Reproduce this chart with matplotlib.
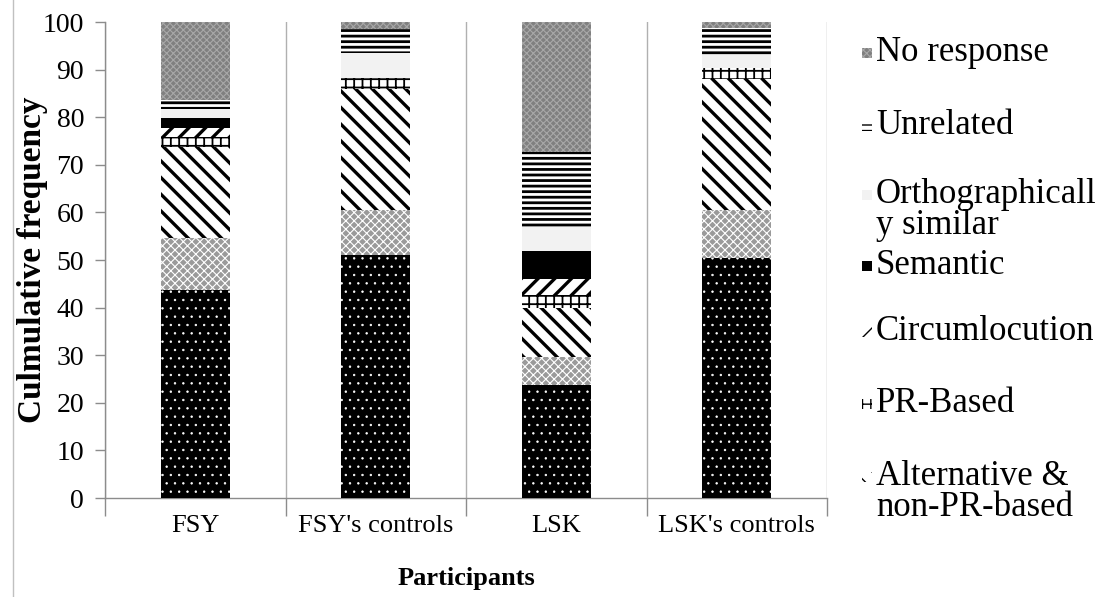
import matplotlib
matplotlib.use("Agg")
import matplotlib.pyplot as plt
from matplotlib.patches import Rectangle
from matplotlib.lines import Line2D

# ---------------- data ----------------
participants = ["FSY", "FSY's controls", "LSK", "LSK's controls"]

bottom_unlabelled = [43.7, 51.0, 23.7, 50.5]   # black dotted (legend entry not visible)
second_unlabelled = [10.9, 9.5, 6.0, 10.0]     # grey cross-hatch (legend entry not visible)
alternative = [19.1, 25.4, 10.2, 27.5]
pr_based = [2.1, 2.3, 2.7, 2.3]
circumlocution = [1.9, 0.0, 3.4, 0.0]
semantic = [2.1, 0.0, 5.9, 0.0]
ortho_similar = [1.9, 5.3, 5.1, 2.8]
unrelated = [1.9, 5.0, 15.7, 5.6]
no_response = [16.4, 1.5, 27.3, 1.3]

series_names = ["Unlabelled 1", "Unlabelled 2", "Alternative &\nnon-PR-based", "PR-Based",
                "Circumlocution", "Semantic", "Orthographicall\ny similar", "Unrelated",
                "No response"]
series_values = [bottom_unlabelled, second_unlabelled, alternative, pr_based,
                 circumlocution, semantic, ortho_similar, unrelated, no_response]

y_ticks = [0, 10, 20, 30, 40, 50, 60, 70, 80, 90, 100]

# ---------------- styles ----------------
# facecolor, hatch, hatch colour, hatch linewidth
styles = [
    ("#000000", "..", "#ffffff", 0.5),
    ("#9a9a9a", "xxxx", "#ffffff", 0.8),
    ("#ffffff", "\\\\", "#000000", 2.4),
    ("#ffffff", "++", "#000000", 1.3),
    ("#ffffff", "//", "#000000", 2.4),
    ("#000000", "", "#000000", 1.0),
    ("#f2f2f2", "", "#f2f2f2", 1.0),
    ("#ffffff", "---", "#000000", 2.0),
    ("#808080", "xxxxx", "#a8a8a8", 0.8),
]

W, H = 1109, 597
fig = plt.figure(figsize=(W / 100, H / 100), dpi=100)
ax = fig.add_axes([105 / W, 1 - 498 / H, (827 - 105) / W, (498 - 22) / H])

serif = ["Liberation Serif", "DejaVu Serif"]

x = list(range(len(participants)))
bottoms = [0.0] * len(participants)
for vals, (fc, hatch, hc, hlw) in zip(series_values, styles):
    with plt.rc_context({"hatch.linewidth": hlw}):
        bars = ax.bar(x, vals, width=0.383, bottom=bottoms, facecolor=fc,
                      edgecolor=hc, linewidth=0, hatch=hatch, zorder=3)
        for b in bars:
            if hasattr(b, "set_hatch_linewidth"):
                b.set_hatch_linewidth(hlw)
    bottoms = [b0 + v for b0, v in zip(bottoms, vals)]

ax.set_xlim(-0.5, len(participants) - 0.5)
ax.set_ylim(0, 100)
ax.set_yticks(y_ticks)
ax.set_yticklabels([str(t) for t in y_ticks], family=serif, fontsize=20)

ax.set_xticks(x)
ax.set_xticklabels(participants, family=serif, fontsize=19)
ax.tick_params(axis="x", which="major", length=0, pad=12)
ax.set_xticks([i - 0.5 for i in range(len(participants) + 1)], minor=True)
ax.tick_params(axis="x", which="minor", length=13, width=1, color="#8c8c8c", direction="out")
ax.tick_params(axis="y", length=7, width=1, color="#8c8c8c", direction="out", pad=8)

ax.grid(axis="x", which="minor", color="#b0b0b0", linewidth=1, zorder=0)
ax.grid(axis="x", which="major", visible=False)

for s in ["top", "right"]:
    ax.spines[s].set_visible(False)
for s in ["left", "bottom"]:
    ax.spines[s].set_color("#8c8c8c")
    ax.spines[s].set_linewidth(1)

ax.set_ylabel("Culmulative frequency", family=serif, fontsize=24, fontweight="bold", labelpad=-4)
ax.set_xlabel("Participants", family=serif, fontsize=19, fontweight="bold", labelpad=22)

# chart-area border on the left
fig.add_artist(Line2D([13 / W, 13 / W], [0, 1], transform=fig.transFigure, color="#c0c0c0", linewidth=1))

# ---------------- legend (manual, top = last series) ----------------
legend_order = [8, 7, 6, 5, 4, 3, 2]
legend_y = [53, 126, 195, 266, 332, 404, 477]  # pixel centres of first text line
for idx, yc in zip(legend_order, legend_y):
    fc, hatch, hc, hlw = styles[idx]
    with plt.rc_context({"hatch.linewidth": min(hlw, 1.0)}):
        r = Rectangle((862 / W, 1 - (yc + 5) / H), 10 / W, 10 / H, transform=fig.transFigure,
                      facecolor=fc, edgecolor=hc, linewidth=0, hatch=hatch)
        if hasattr(r, "set_hatch_linewidth"):
            r.set_hatch_linewidth(min(hlw, 1.0))
    fig.add_artist(r)
    fig.text(876 / W, 1 - (yc - 17) / H, series_names[idx], family=serif, fontsize=25,
             va="top", ha="left", linespacing=0.92, transform=fig.transFigure)

fig.savefig("out.png", dpi=100)
